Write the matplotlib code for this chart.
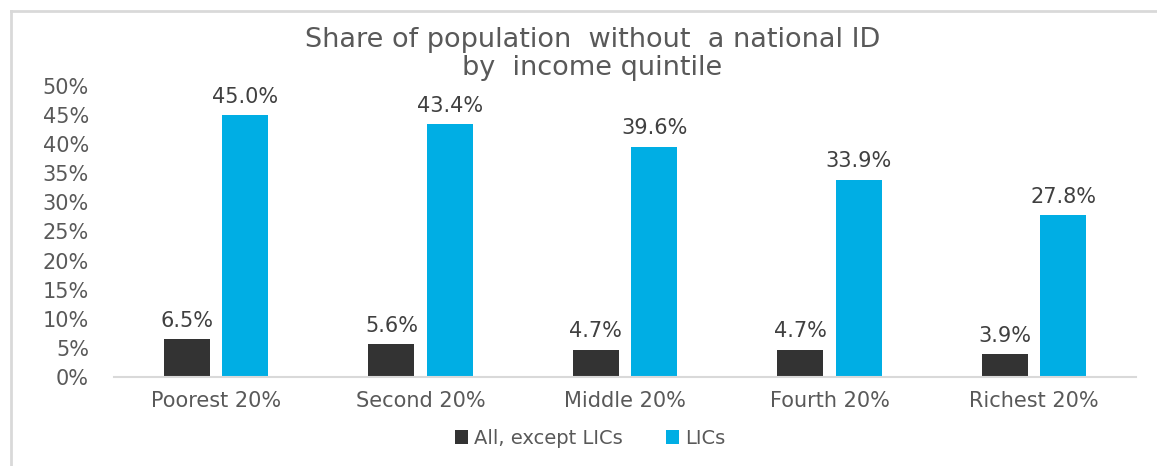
import matplotlib.pyplot as plt
import numpy as np
from matplotlib.lines import Line2D

categorias = ['Poorest 20%', 'Second 20%', 'Middle 20%', 'Fourth 20%', 'Richest 20%']
todos_menos_lics = [6.5, 5.6, 4.7, 4.7, 3.9]
lics = [45.0, 43.4, 39.6, 33.9, 27.8]
series = ['All, except LICs', 'LICs']
colores = ['#333333', '#00AEE4']

plt.rcParams['font.family'] = ['DejaVu Sans']

fig = plt.figure(figsize=(11.57, 4.66), dpi=100)
ax = fig.add_axes([0.0985, 0.191, 0.8835, 0.6245])

x = np.arange(len(categorias))
ancho = 0.225
desp = 0.1425
b1 = ax.bar(x - desp, todos_menos_lics, ancho, color=colores[0], label=series[0])
b2 = ax.bar(x + desp, lics, ancho, color=colores[1], label=series[1])

for barras, vals in [(b1, todos_menos_lics), (b2, lics)]:
    for b, v in zip(barras, vals):
        ax.annotate(f'{v:.1f}%', (b.get_x() + b.get_width() / 2, v),
                    xytext=(0, 6), textcoords='offset points',
                    ha='center', va='bottom', fontsize=15, color='#404040')

ax.set_xlim(-0.5, 4.5)
ax.set_ylim(0, 50)
ax.set_yticks(np.arange(0, 51, 5))
ax.set_yticklabels([f'{t}%' for t in range(0, 51, 5)])
ax.set_xticks(x)
ax.set_xticklabels(categorias)
ax.tick_params(axis='both', length=0, labelsize=15, colors='#595959')
ax.tick_params(axis='y', pad=18)
ax.tick_params(axis='x', pad=10)
for s in ['top', 'right', 'left']:
    ax.spines[s].set_visible(False)
ax.spines['bottom'].set_color('#D9D9D9')
ax.spines['bottom'].set_linewidth(1.5)

fig.text(0.512, 0.914, 'Share of population  without  a national ID',
         ha='center', va='center', fontsize=19.5, color='#595959')
fig.text(0.512, 0.855, 'by  income quintile',
         ha='center', va='center', fontsize=19.5, color='#595959')

fig.legend(loc='center', bbox_to_anchor=(0.51, 0.06), ncol=2, frameon=False,
           fontsize=14, labelcolor='#595959', handlelength=0.7, handleheight=0.7,
           handletextpad=0.3, columnspacing=2.2)

# marco del grafico (solo arriba e izquierda)
fig.add_artist(Line2D([0.0095, 0.0095], [0.0, 0.977], transform=fig.transFigure,
                      color='#D9D9D9', linewidth=2))
fig.add_artist(Line2D([0.0095, 1.0], [0.977, 0.977], transform=fig.transFigure,
                      color='#D9D9D9', linewidth=2))

plt.savefig('out.png')
